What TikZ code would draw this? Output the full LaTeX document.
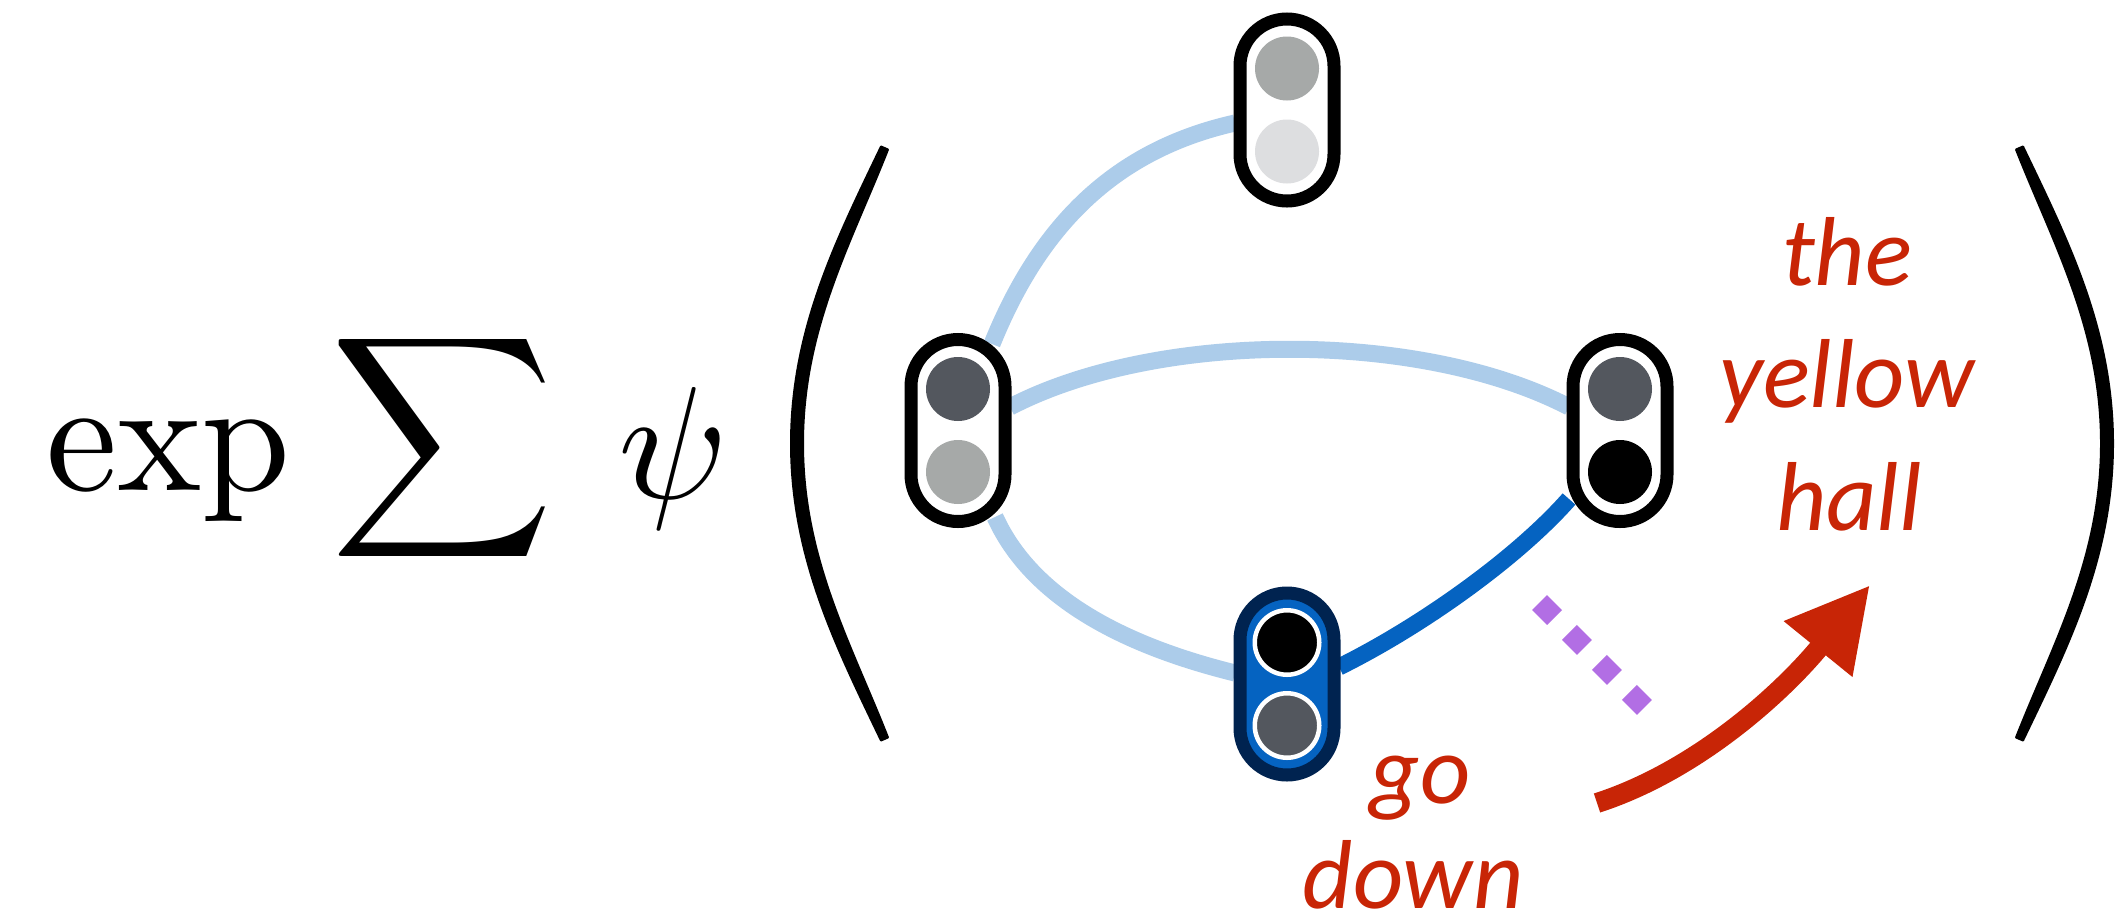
\documentclass[tikz,border=0pt]{standalone}
\usepackage{fontspec}
\newfontfamily\carl{Carlito}
\usetikzlibrary{arrows.meta,calc,backgrounds}
\definecolor{lblue}{HTML}{ACCCEA}
\definecolor{dblue}{HTML}{0563C1}
\definecolor{navy}{HTML}{002350}
\definecolor{gA}{HTML}{A6A9A8}
\definecolor{gB}{HTML}{DDDEE0}
\definecolor{gC}{HTML}{53575E}
\definecolor{redc}{HTML}{C82506}
\definecolor{purp}{HTML}{B26EE4}
\newcommand\myparen{%
  \filldraw[line width=2pt, line join=round] (-90,-297) .. controls (-46,-205) and (0,-115) .. (0,0)
    .. controls (0,115) and (-46,205) .. (-90,297)
    -- (-97,294) .. controls (-60,200) and (-12,115) .. (-12,0)
    .. controls (-12,-115) and (-60,-200) .. (-97,-294) -- cycle;}
\begin{document}
\begin{tikzpicture}[x=1pt,y=-1pt,
  pill/.style={rectangle, minimum width=94pt, minimum height=182pt, rounded corners=47pt, line width=13pt, draw=black, fill=white, inner sep=0pt, outer sep=0pt},
  bpill/.style={pill, draw=navy, fill=dblue},
  dot/.style={circle, minimum size=64pt, inner sep=0pt, outer sep=0pt},
  rdot/.style={circle, minimum size=64.5pt, inner sep=0pt, outer sep=0pt, draw=white, line width=4.5pt},
  conn/.style={line width=17pt, lblue},
  connd/.style={line width=17pt, dblue},
  lbl/.style={text=redc, font=\carl\itshape\fontsize{98}{118}\selectfont, anchor=base, inner sep=0pt, text depth=0pt},
  mth/.style={inner sep=0pt}]
\useasboundingbox (0,0) rectangle (2120,919);
% math
\node[mth, anchor=base west] (exp) at (46,490) {\scalebox{16}{$\exp$}};
\node[mth] (sum) at (442.5,448) {\scalebox{15.5}{$\displaystyle\sum$}};
\node[mth, anchor=base] (psi) at (673,498) {\scalebox{16}{$\psi$}};
% parentheses
\begin{scope}[shift={(791,443.5)}, xscale=-1]\myparen\end{scope}
\begin{scope}[shift={(2113,443.5)}]\myparen\end{scope}
% pills
\node[pill] (T) at (1287,110) {};
\node[dot, fill=gA] (T1) at ($(T)+(0,-41.5)$) {};
\node[dot, fill=gB] (T2) at ($(T)+(0,41.5)$) {};
\node[pill] (L) at (958,430.5) {};
\node[dot, fill=gC] (L1) at ($(L)+(0,-41.5)$) {};
\node[dot, fill=gA] (L2) at ($(L)+(0,41.5)$) {};
\node[pill] (R) at (1620,430.5) {};
\node[dot, fill=gC] (R1) at ($(R)+(0,-41.5)$) {};
\node[dot, fill=black] (R2) at ($(R)+(0,41.5)$) {};
\node[bpill] (B) at (1287,684) {};
\node[rdot, fill=black] (B1) at ($(B)+(0,-41.5)$) {};
\node[rdot, fill=gC] (B2) at ($(B)+(0,41.5)$) {};
% connectors
\begin{scope}[on background layer]
\fill[white] (0,0) rectangle (2120,919);
\draw[conn] ($(L)+(34,-86.5)$) .. controls +(48,-119) and +(-120,27) .. ($(T)+(-52,13)$);
\draw[conn] ($(L)+(52,-23.5)$) .. controls +(148,-77) and +(-148,-77) .. ($(R)+(-51,-23.5)$);
\draw[conn] ($(L)+(37,86.5)$) .. controls +(40,88) and +(-97,-24) .. ($(B)+(-52,-11)$);
\draw[connd] ($(B)+(52,-17)$) .. controls +(81,-40) and +(-53,60) .. ($(R)+(-51,68.5)$);
\end{scope}
% purple dotted
\coordinate (p0) at (1539.5,602.5);
\coordinate (p1) at (1644.5,707.5);
\draw[purp, line width=21.2pt, dash pattern=on 21.2pt off 21.2pt] (p0) -- (p1);
% red arrow
\coordinate (a0) at (1597,803);
\coordinate (a1) at (1870,585);
\draw[redc, line width=20pt, -{Triangle[length=82.5pt,width=82.5pt]}] (a0) .. controls +(105,-34) and +(-82,101) .. (a1);
% labels
\node[lbl] (the) at (1847,285) {the};
\node[lbl] (yellow) at (1847,407) {yellow};
\node[lbl] (hall) at (1849,530) {hall};
\node[lbl] (go) at (1420,803) {go};
\node[lbl] (down) at (1413,908) {down};
\end{tikzpicture}
\end{document}
